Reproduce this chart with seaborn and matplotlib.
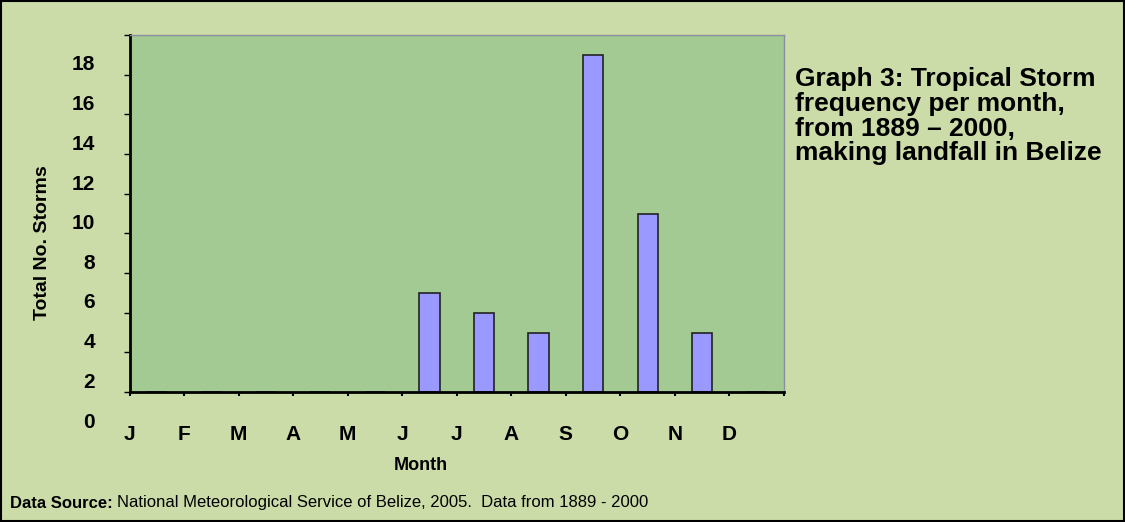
import numpy as np
import pandas as pd
import seaborn as sns
import matplotlib.pyplot as plt
from matplotlib.patches import Rectangle
from matplotlib.transforms import ScaledTranslation

# storms per month making landfall in Belize, 1889 - 2000
months = ["J", "F", "M", "A", "M", "J", "J", "A", "S", "O", "N", "D"]
month_ids = list(range(12))
storms = [0, 0, 0, 0, 0, 5, 4, 3, 17, 9, 3, 0]
y_ticks = [0, 2, 4, 6, 8, 10, 12, 14, 16, 18]

df = pd.DataFrame({"month": month_ids, "storms": storms})

sns.set_style("white")
plt.rcParams['font.family'] = ['Liberation Sans', 'DejaVu Sans']
plt.rcParams['text.color'] = 'black'
plt.rcParams['xtick.color'] = 'black'
plt.rcParams['ytick.color'] = 'black'

outer_bg = "#CCDCA8"
plot_bg = "#A2CA92"
bar_col = "#9999FF"

fig = plt.figure(figsize=(11.25, 5.22), dpi=100)
fig.patch.set_facecolor(outer_bg)
W, H = 1125, 522
ax = fig.add_axes([129.5 / W, 1 - 392 / H, (784 - 129.5) / W, (392 - 35) / H])
ax.set_facecolor(plot_bg)

sns.barplot(data=df, x="month", y="storms", order=month_ids, color=bar_col,
            saturation=1, width=0.37, edgecolor="#222222", linewidth=1.2, ax=ax)

ax.set_xlim(-0.5, 11.5)
ax.set_ylim(0, 18)

# month labels sit on the category boundaries, like the original
ax.set_xticks(np.arange(13) - 0.5)
ax.set_xticklabels(months + [""], fontsize=15, fontweight="bold")
ax.tick_params(axis="x", length=3, width=1.5, pad=21, direction="out", bottom=True)

ax.set_yticks(y_ticks)
ax.set_yticklabels([str(v) for v in y_ticks], fontsize=15, fontweight="bold")
ax.tick_params(axis="y", length=4, width=1, pad=21, direction="out", left=True)
# the value labels in the original sit lower than their ticks
shift = ScaledTranslation(0, -0.28, fig.dpi_scale_trans)
for lab in ax.get_yticklabels():
    lab.set_transform(lab.get_transform() + shift)

for side in ["left", "bottom"]:
    ax.spines[side].set_color("black")
    ax.spines[side].set_linewidth(2)
for side in ["top", "right"]:
    ax.spines[side].set_color("#8a8fa0")
    ax.spines[side].set_linewidth(1)

ax.set_xlabel("")
ax.set_ylabel("")
fig.text(43 / W, 1 - 243 / H, "Total No. Storms", rotation=90, fontsize=14,
         fontweight="bold", ha="center", va="center")
fig.text(421 / W, 1 - 465 / H, "Month", fontsize=13, fontweight="bold",
         ha="center", va="center")

fig.text(795 / W, 1 - 67 / H,
         "Graph 3: Tropical Storm\nfrequency per month,\nfrom 1889 \u2013 2000,\nmaking landfall in Belize",
         fontsize=19, fontweight="bold", ha="left", va="top", linespacing=1.04)

t1 = fig.text(10 / W, 1 - 503 / H, "Data Source:", fontsize=12, fontweight="bold",
              ha="left", va="center")
fig.canvas.draw()
bb = t1.get_window_extent()
fig.text((bb.x1 + 4) / W, 1 - 503 / H,
         "National Meteorological Service of Belize, 2005.  Data from 1889 - 2000",
         fontsize=12, ha="left", va="center")

fig.patches.append(Rectangle((0.0008, 0.001), 0.998, 0.997, transform=fig.transFigure,
                             fill=False, edgecolor="black", linewidth=1.5))

fig.savefig("out.png", dpi=100, facecolor=fig.get_facecolor())
